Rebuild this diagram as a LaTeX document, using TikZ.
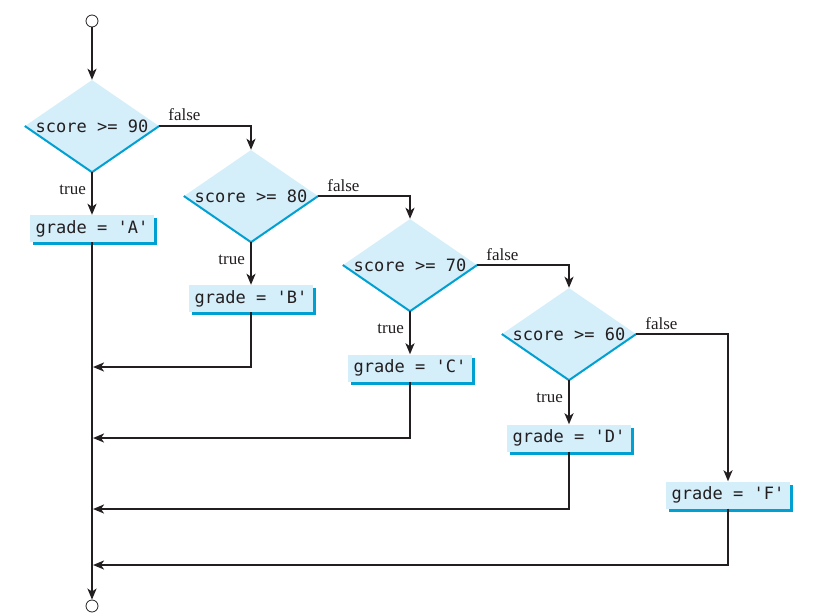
\documentclass[tikz,border=0pt]{standalone}
\usepackage{fontspec}
\setmainfont{Liberation Serif}
\newfontfamily\codefont{DejaVu Sans Mono}
\usetikzlibrary{shapes.geometric,arrows.meta,shadows}
\definecolor{boxfill}{HTML}{D4EEFA}
\definecolor{edgeblue}{HTML}{00A0D2}
\definecolor{ink}{HTML}{231F20}
\begin{document}
\begin{tikzpicture}[x=1pt,y=-1pt,
  decision/.style={diamond, aspect=1.46, fill=boxfill, inner sep=0pt, minimum width=134pt, minimum height=92pt,
    font=\codefont\fontsize{17}{20}\selectfont, text=ink},
  action/.style={rectangle, fill=boxfill, inner sep=0pt, minimum width=124pt, minimum height=27pt,
    font=\codefont\fontsize{17}{20}\selectfont, text=ink,
    drop shadow={shadow xshift=3pt, shadow yshift=-3pt, fill=edgeblue, opacity=1}},
  terminal/.style={circle, draw=ink, line width=0.8pt, fill=white, minimum size=12pt, inner sep=0pt},
  flow/.style={draw=ink, line width=2pt, -{Stealth[length=11pt,width=9pt,inset=3pt]}},
  lbl/.style={font=\fontsize{17}{19}\selectfont, text=ink, inner sep=0pt},
  rim/.style={draw=edgeblue, line width=2pt}]
\useasboundingbox (0,0) rectangle (834,615);

\node[terminal] (start) at (92,21) {};
\node[terminal] (stop) at (92,606) {};

\node[decision] (d1) at (92,126) {score >= 90};
\node[decision] (d2) at (251,196) {score >= 80};
\node[decision] (d3) at (410,265) {score >= 70};
\node[decision] (d4) at (569,334) {score >= 60};
\foreach \d in {d1,d2,d3,d4}{
  \path[rim] (\d.west) -- (\d.south) -- (\d.east);
}

\node[action] (a) at (92,228.5) {grade = 'A'};
\node[action] (b) at (251,298.5) {grade = 'B'};
\node[action] (c) at (410,368) {grade = 'C'};
\node[action] (dd) at (569,438) {grade = 'D'};
\node[action] (f) at (728,495) {grade = 'F'};

\coordinate (jb) at (93,367);
\coordinate (jc) at (93,438);
\coordinate (jd) at (93,509);
\coordinate (jf) at (93,565);

\path[flow] (start.south) -- (d1.north);
\foreach \d/\x in {d1/a,d2/b,d3/c,d4/dd}{
  \path[flow] (\d.south) -- (\x.north);
  \node[lbl, anchor=base east] at ([xshift=-6pt,yshift=-22pt]\d.south) {true};
  \node[lbl, anchor=base west] at ([xshift=9pt,yshift=5pt]\d.east) {false};
}
\path[flow] (d1.east) -| (d2.north);
\path[flow] (d2.east) -| (d3.north);
\path[flow] (d3.east) -| (d4.north);
\path[flow] (d4.east) -| (f.north);

\path[flow] (b.south) |- (jb);
\path[flow] (c.south) |- (jc);
\path[flow] (dd.south) |- (jd);
\path[flow] (f.south) |- (jf);
\path[flow] (a.south) -- (stop.north);
\end{tikzpicture}
\end{document}
